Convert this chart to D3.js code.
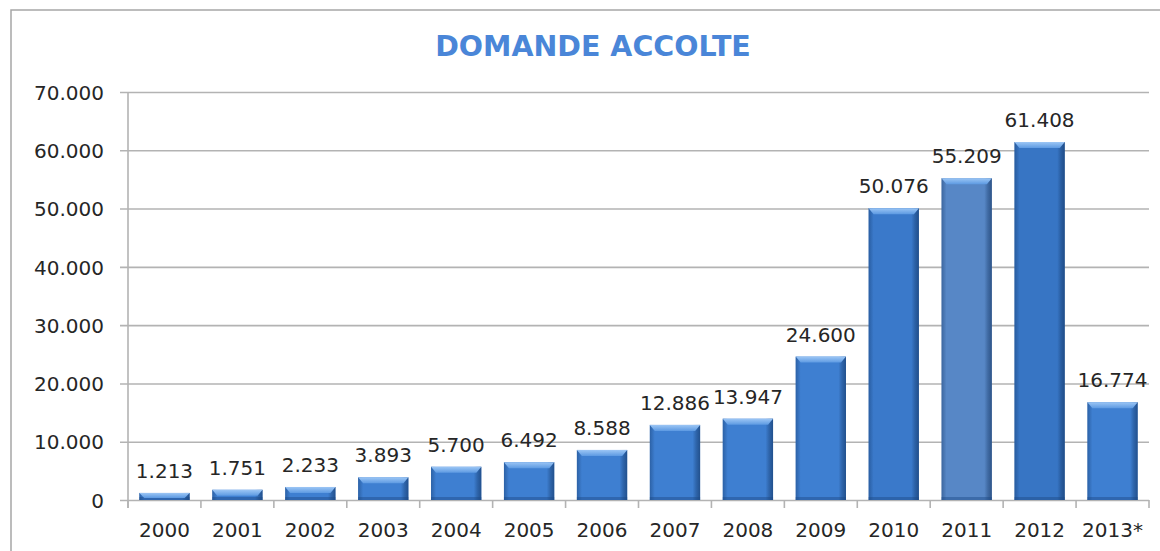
<!DOCTYPE html>
<html>
<head>
<meta charset="utf-8">
<script src="https://cdn.jsdelivr.net/npm/d3@7/dist/d3.min.js"></script>
<style>
  html, body { margin: 0; padding: 0; background: #fff; }
  svg { display: block; font-family: "DejaVu Sans", Verdana, sans-serif; }
</style>
</head>
<body>
<svg width="1160" height="551"></svg>
<script>
// chart data
var years = ["2000", "2001", "2002", "2003", "2004", "2005", "2006", "2007", "2008", "2009", "2010", "2011", "2012", "2013*"];
var domande = [1213, 1751, 2233, 3893, 5700, 6492, 8588, 12886, 13947, 24600, 50076, 55209, 61408, 16774];
var yTicks = [0, 10000, 20000, 30000, 40000, 50000, 60000, 70000];
var titolo = "DOMANDE ACCOLTE";

// bar tints (2010-2012 differ slightly in the original)
var barColors = ["#3e7fd1", "#3e7fd1", "#3e7fd1", "#3e7fd1", "#3e7fd1", "#3e7fd1", "#3e7fd1",
  "#3e7fd1", "#3e7fd1", "#3e7fd1", "#3a79ca", "#5787c6", "#3775c4", "#3e7fd1"];

var svg = d3.select("svg"),
  plotLeft = 128, plotRight = 1149, plotTop = 92, plotBottom = 500;

var it = d3.formatLocale({ decimal: ",", thousands: ".", grouping: [3], currency: ["", ""] });
var fmt = it.format(",");

var x = d3.scaleBand().domain(years).range([plotLeft, plotRight]).paddingInner(0.31).paddingOuter(0.155),
  y = d3.scaleLinear().domain([0, 70000]).range([plotBottom, plotTop]);

// gradients for the bevel look
var defs = svg.append("defs");
var side = defs.append("linearGradient").attr("id", "side").attr("x1", 0).attr("x2", 1).attr("y1", 0).attr("y2", 0);
side.append("stop").attr("offset", "0").attr("stop-color", "#0b2a55").attr("stop-opacity", 0.35);
side.append("stop").attr("offset", "0.1").attr("stop-color", "#0b2a55").attr("stop-opacity", 0);
side.append("stop").attr("offset", "0.85").attr("stop-color", "#0b2a55").attr("stop-opacity", 0);
side.append("stop").attr("offset", "0.92").attr("stop-color", "#0b2a55").attr("stop-opacity", 0.3);
side.append("stop").attr("offset", "1").attr("stop-color", "#0b2a55").attr("stop-opacity", 0.55);
var topG = defs.append("linearGradient").attr("id", "topg").attr("x1", 0).attr("x2", 0).attr("y1", 0).attr("y2", 1);
topG.append("stop").attr("offset", "0").attr("stop-color", "#9cc6f5");
topG.append("stop").attr("offset", "1").attr("stop-color", "#5d9ae2");

// outer frame
svg.append("rect")
  .attr("x", 11).attr("y", 10).attr("width", 1200).attr("height", 600)
  .attr("fill", "none").attr("stroke", "#a6a6a6").attr("stroke-width", 1.5);

// title
svg.append("text")
  .attr("x", 593).attr("y", 56)
  .attr("text-anchor", "middle")
  .attr("font-size", "28.5px").attr("font-weight", "bold")
  .attr("fill", "#4a86d8")
  .text(titolo);

// y axis + gridlines
var yAxis = svg.append("g")
  .attr("transform", "translate(" + plotLeft + ",0)")
  .call(d3.axisLeft(y).tickValues(yTicks).tickFormat(fmt).tickSizeInner(-(plotRight - plotLeft)).tickSizeOuter(0).tickPadding(24));
yAxis.select(".domain").remove();
yAxis.selectAll(".tick line").attr("x1", -8).attr("stroke", "#b3b3b3").attr("stroke-width", 1.6);
yAxis.selectAll(".tick text").attr("font-size", "20px").attr("fill", "#262626").attr("font-family", "DejaVu Sans").attr("dy", "0.36em");

svg.append("line")
  .attr("x1", plotLeft).attr("x2", plotLeft).attr("y1", plotTop).attr("y2", plotBottom + 8)
  .attr("stroke", "#b3b3b3").attr("stroke-width", 1.6);

// x axis: labels centered on bands, ticks at band edges
var xAxis = svg.append("g")
  .attr("transform", "translate(0," + plotBottom + ")")
  .call(d3.axisBottom(x).tickSize(0).tickPadding(23));
xAxis.select(".domain").remove();
xAxis.selectAll(".tick text").attr("font-size", "20px").attr("fill", "#262626").attr("font-family", "DejaVu Sans");

var step = x.step();
svg.append("g").selectAll("line")
  .data(d3.range(years.length + 1))
  .enter().append("line")
  .attr("x1", function (i) { return plotLeft + i * step; })
  .attr("x2", function (i) { return plotLeft + i * step; })
  .attr("y1", plotBottom).attr("y2", plotBottom + 8)
  .attr("stroke", "#b3b3b3").attr("stroke-width", 1.6);

// bars
var bars = svg.append("g").selectAll("g")
  .data(years.map(function (d, i) { return { year: d, value: domande[i], color: barColors[i] }; }))
  .enter().append("g");

var bw = x.bandwidth();
bars.append("rect")
  .attr("x", function (d) { return x(d.year); })
  .attr("y", function (d) { return y(d.value); })
  .attr("width", bw)
  .attr("height", function (d) { return plotBottom - y(d.value); })
  .attr("fill", function (d) { return d.color; });

bars.append("rect")
  .attr("x", function (d) { return x(d.year); })
  .attr("y", function (d) { return y(d.value); })
  .attr("width", bw)
  .attr("height", function (d) { return plotBottom - y(d.value); })
  .attr("fill", "url(#side)");

// bottom shade
bars.append("rect")
  .attr("x", function (d) { return x(d.year); })
  .attr("y", function (d) { return Math.max(y(d.value), plotBottom - 3); })
  .attr("width", bw)
  .attr("height", function (d) { return Math.min(3, plotBottom - y(d.value)); })
  .attr("fill", "#1d4a86").attr("opacity", 0.45);

// top bevel
bars.append("polygon")
  .attr("points", function (d) {
    var x0 = x(d.year), y0 = y(d.value), h = Math.min(6, (plotBottom - y0) * 0.7);
    return [[x0, y0], [x0 + bw, y0], [x0 + bw - 5, y0 + h], [x0 + 5, y0 + h]].join(" ");
  })
  .attr("fill", "url(#topg)");

// value labels
bars.append("text")
  .attr("x", function (d) { return x(d.year) + bw / 2; })
  .attr("y", function (d) { return y(d.value) - 15; })
  .attr("text-anchor", "middle")
  .attr("font-size", "20px").attr("fill", "#262626")
  .text(function (d) { return fmt(d.value); });
</script>
</body>
</html>
